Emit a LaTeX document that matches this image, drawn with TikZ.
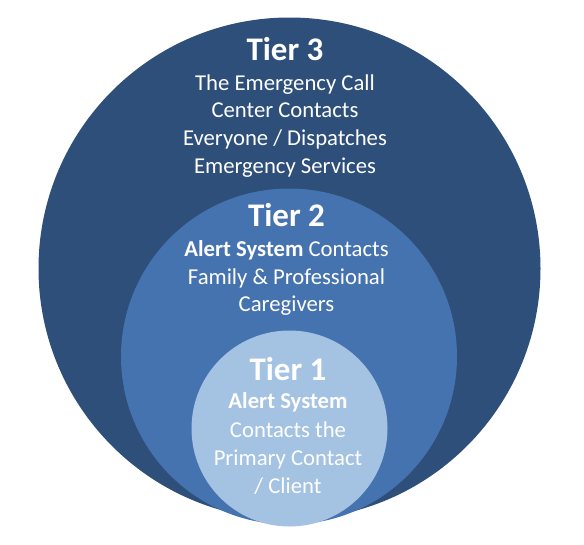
\documentclass[tikz,border=0pt]{standalone}
\usepackage{fontspec}
\setmainfont{Carlito}
\definecolor{tierdark}{HTML}{2D4F79}
\definecolor{tiermid}{HTML}{4573B0}
\definecolor{tierlight}{HTML}{A4C2E2}
\begin{document}
\begin{tikzpicture}[x=1pt,y=-1pt,
  disc/.style={circle,inner sep=0pt,draw=none},
  head/.style={anchor=base,inner sep=0pt,text=white,font=\fontsize{33}{36}\selectfont\bfseries},
  txt/.style={anchor=base,inner sep=0pt,text=white,font=\fontsize{22.7}{28}\selectfont}]

\useasboundingbox (0,0) rectangle (584,544);

\node [disc,fill=tierdark,minimum size=502pt] (tier3) at (289.5,268.5) {};
\node [disc,fill=tiermid,minimum size=336pt] (tier2) at (289,356.5) {};
\node [disc,fill=tierlight,minimum size=196pt] (tier1) at (289.5,428.5) {};

\node [head] (h3) at (285,60.7) {Tier 3};
\foreach \txt/\y/\n in {{The Emergency Call}/90/a,{Center Contacts}/117.7/b,
    {Everyone / Dispatches}/145.4/c,{Emergency Services}/173/d}
  \node [txt] (t3\n) at (285,\y) {\txt};

\node [head] (h2) at (286.5,226.7) {Tier 2};
\foreach \txt/\y/\n in {{\textbf{Alert System} Contacts}/256/a,
    {Family \& Professional}/284.3/b,{Caregivers}/311.7/c}
  \node [txt] (t2\n) at (286.5,\y) {\txt};

\node [head] (h1) at (288,380) {Tier 1};
\foreach \txt/\y/\n in {{\textbf{Alert System}}/408/a,{Contacts the}/437/b,
    {Primary Contact}/465/c,{/ Client}/493/d}
  \node [txt] (t1\n) at (288,\y) {\txt};

\end{tikzpicture}
\end{document}
